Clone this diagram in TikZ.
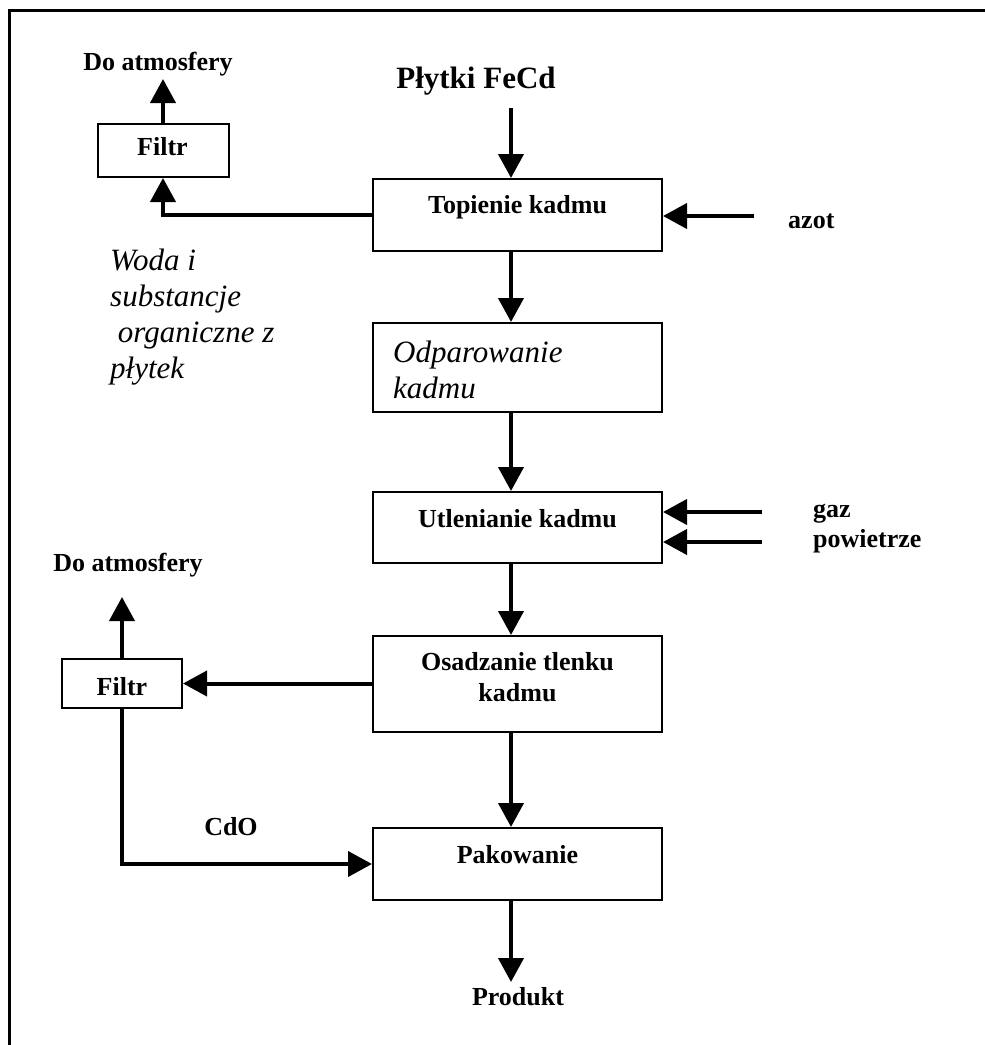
\documentclass[tikz,border=0pt]{standalone}
\usepackage{fontspec}
\setmainfont{Liberation Serif}
\usetikzlibrary{arrows.meta}

\begin{document}
\begin{tikzpicture}[x=1pt,y=-1pt,
  box/.style={draw, line width=2pt, minimum width=289pt, inner sep=0pt},
  lbl/.style={font=\fontsize{26}{30}\selectfont\bfseries, inner sep=0pt, anchor=base},
  big/.style={font=\fontsize{31}{36}\selectfont\bfseries, inner sep=0pt, anchor=base},
  ital/.style={font=\fontsize{31}{36}\selectfont\itshape, inner sep=0pt, anchor=base west},
  flow/.style={line width=4pt, -{Triangle[length=24pt,width=25pt]}},
  frame/.style={line width=2.5pt}
]
\useasboundingbox (0,0) rectangle (985,1045);

% page frame (top and left edges)
\draw[frame] (985,10.5) -- (9.5,10.5) -- (9.5,1045);

% process boxes
\node[box, minimum height=72pt] (topienie) at (517.5,215) {};
\node[box, minimum height=89pt] (odpar)    at (517.5,367.5) {};
\node[box, minimum height=71pt] (utl)      at (517.5,527.5) {};
\node[box, minimum height=96pt] (osad)     at (517.5,684) {};
\node[box, minimum height=72pt] (pak)      at (517.5,864) {};
\node[box, minimum width=131pt, minimum height=53pt] (filtrA) at (163,150.5) {};
\node[box, minimum width=120pt, minimum height=49pt] (filtrB) at (122,683.5) {};

% box captions
\node[lbl] (tTop)   at (517.5,213) {Topienie kadmu};
\node[ital] (tOdp1) at (393,362) {Odparowanie};
\node[ital] (tOdp2) at (393,398) {kadmu};
\node[lbl] (tUtl)   at (517.5,527) {Utlenianie kadmu};
\node[lbl] (tOs1)   at (517.5,670) {Osadzanie tlenku};
\node[lbl] (tOs2)   at (517.5,701) {kadmu};
\node[lbl] (tPak)   at (517.5,863) {Pakowanie};
\node[lbl] (tFA)    at (162.5,155) {Filtr};
\node[lbl] (tFB)    at (122,695) {Filtr};

% stream labels
\node[big] (plytki) at (476,88) {Płytki FeCd};
\node[lbl] (atmA) at (158,70) {Do atmosfery};
\node[lbl] (atmB) at (128,571) {Do atmosfery};
\node[lbl, anchor=base west] (azot) at (788,228) {azot};
\node[lbl, anchor=base west] (gaz)  at (813,517) {gaz};
\node[lbl, anchor=base west] (pow)  at (813,547) {powietrze};
\node[lbl] (cdo)     at (231,835) {CdO};
\node[lbl] (produkt) at (518,1005) {Produkt};
\node[ital] (w1) at (110,270) {Woda i};
\node[ital] (w2) at (110,306) {substancje};
\node[ital] (w3) at (110,342) {\ organiczne z};
\node[ital] (w4) at (110,378) {płytek};

% free ends of the streams
\coordinate (col)   at (511,0);
\coordinate (feed)  at (511,108);
\coordinate (azotS) at (754,216);
\coordinate (gazS)  at (762,512);
\coordinate (powS)  at (762,542);
\coordinate (ventA) at (163,79);
\coordinate (ventB) at (122,597);
\coordinate (outP)  at (511,982);

% main line
\draw[flow] (feed) -- (col |- topienie.north);
\draw[flow] (col |- topienie.south) -- (col |- odpar.north);
\draw[flow] (col |- odpar.south) -- (col |- utl.north);
\draw[flow] (col |- utl.south) -- (col |- osad.north);
\draw[flow] (col |- osad.south) -- (col |- pak.north);
\draw[flow] (col |- pak.south) -- (outP);

% side inputs
\draw[flow] (azotS) -- (azotS -| topienie.east);
\draw[flow] (gazS) -- (gazS -| utl.east);
\draw[flow] (powS) -- (powS -| utl.east);

% off-gas and filters
\draw[flow] (topienie.west) -| (filtrA.south);
\draw[flow] (filtrA.north) -- (ventA);
\draw[flow] (osad.west |- filtrB.east) -- (filtrB.east);
\draw[flow] (filtrB.north) -- (ventB);
\draw[flow] (filtrB.south) |- (pak.west);
\end{tikzpicture}
\end{document}
